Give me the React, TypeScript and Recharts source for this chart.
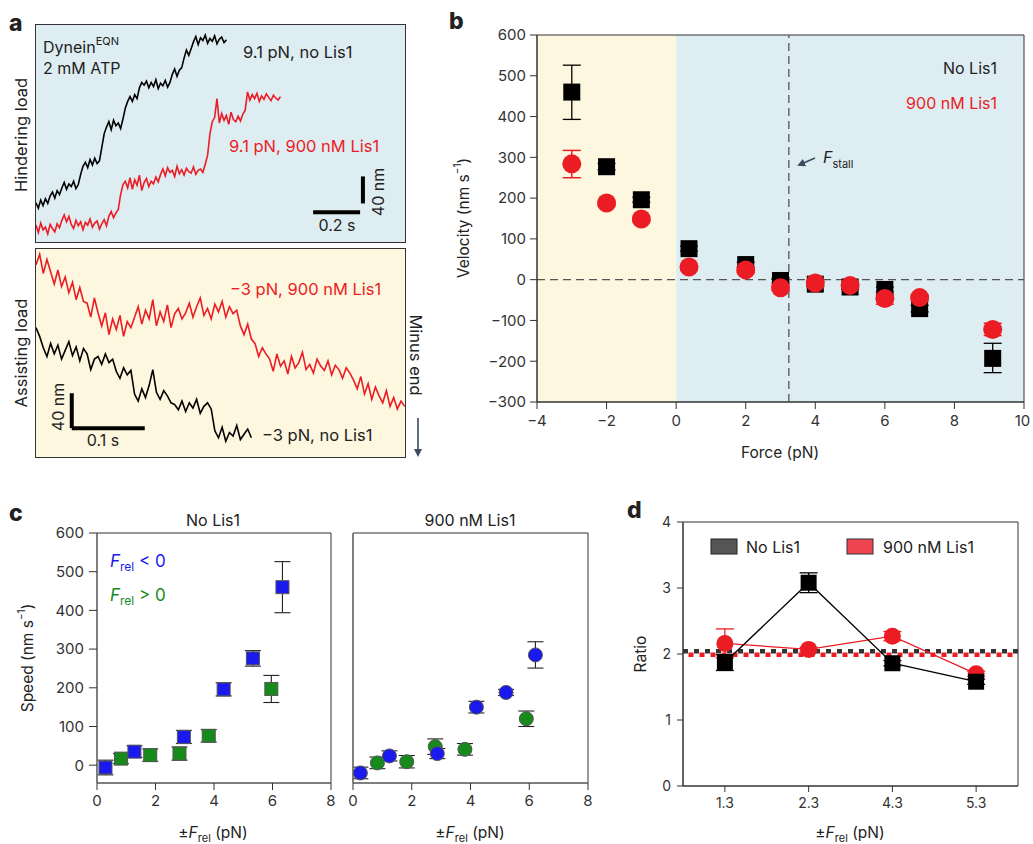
import React from 'react';
import {
  ComposedChart,
  LineChart,
  Line,
  Scatter,
  XAxis,
  YAxis,
  ReferenceArea,
  ReferenceLine,
  ErrorBar,
} from 'recharts';

const FONT = 'Inter, "Noto Sans", "DejaVu Sans", sans-serif';
const RED = '#ec1c24';
const BLUE = '#1a1aee';
const GREEN = '#178a1c';
const INK = '#222';
const AXIS = '#333';
const YELLOW_BG = '#fcf7de';
const BLUE_BG = '#deedf2';

// ---------- Panel a: optical trap traces (nm), uniform sampling ----------
const hinderDt = 0.01; // s
const hinderNoLis1 = [
  58, 50, 62, 54, 64, 57, 68, 74, 65, 76, 70, 80, 88, 78, 86, 82, 90, 79, 85, 100, 112, 118, 110, 122, 114, 124,
  116, 120, 140, 160, 170, 178, 166, 180, 172, 176, 168, 182, 198, 208, 215, 208, 218, 212, 228, 236, 232, 238,
  228, 236, 230, 240, 227, 235, 231, 239, 229, 236, 248, 256, 245, 254, 258, 272, 284, 276, 286, 296, 304, 292,
  302, 298, 306, 294, 301, 297, 305, 293, 300, 303, 295, 299,
];
const hinderLis1 = [
  25, 14, 28, 18, 22, 12, 26, 20, 15, 27, 21, 32, 40, 30, 38, 26, 20, 32, 24, 30, 18, 29, 25, 34, 22, 28, 31, 19,
  27, 33, 24, 38, 45, 36, 43, 48, 70, 85, 90, 80, 95, 78, 92, 84, 99, 76, 88, 94, 82, 90, 86, 96, 89, 100, 108, 98,
  110, 103, 106, 97, 112, 101, 107, 99, 109, 104, 102, 111, 100, 106, 108, 103, 115, 128, 160, 178, 184, 212, 176,
  190, 180, 187, 174, 192, 181, 178, 186, 179, 189, 195, 222, 210, 218, 212, 220, 208, 216, 211, 219, 214, 209, 217,
  213, 210, 215,
];
const assistDt = 0.005; // s
const assistLis1 = [
  220, 232, 210, 226, 212, 198, 214, 195, 206, 188, 200, 180, 194, 178, 176, 160, 182, 165, 150, 165, 140, 158, 146,
  162, 138, 155, 148, 160, 172, 152, 168, 158, 180, 150, 166, 155, 174, 148, 164, 170, 158, 165, 176, 160, 172, 182,
  162, 170, 158, 175, 166, 178, 160, 172, 164, 168, 150, 140, 152, 135, 130, 115, 125, 118, 112, 98, 118, 104, 110,
  95, 115, 102, 108, 120, 100, 106, 96, 112, 104, 99, 110, 94, 105, 100, 90, 102, 96, 88, 78, 92, 72, 84, 66, 80,
  70, 62, 76, 58, 68, 55, 64, 58,
];
const assistNoLis1 = [
  148, 138, 125, 115, 130, 118, 128, 112, 122, 132, 116, 126, 110, 124, 118, 100, 112, 115, 106, 118, 108, 112, 98,
  90, 102, 94, 99, 72, 64, 78, 68, 82, 100, 74, 66, 76, 70, 62, 60, 54, 64, 52, 62, 56, 66, 50, 58, 62, 55, 30, 22,
  34, 18, 28, 24, 36, 20, 26, 32, 22,
];
// scale bars
const hinderBarTime = 0.2; // s
const hinderBarNm = 40; // nm
const assistBarTime = 0.1; // s
const assistBarNm = 40; // nm

// ---------- Panel b: velocity vs force ----------
const forceNoLis1 = [-3, -2, -1, 0.37, 2, 3, 4, 5, 6, 7, 9.1];
const velNoLis1 = [460, 277, 196, 76, 37, -2, -11, -18, -24, -71, -193];
const velNoLis1ErrLo = [67, 8, 6, 6, 6, 6, 6, 6, 6, 8, 35];
const velNoLis1ErrHi = [66, 8, 6, 6, 6, 6, 6, 6, 6, 8, 37];
const forceLis1 = [-3, -2, -1, 0.37, 2, 3, 4, 5, 6, 7, 9.1];
const velLis1 = [284, 188, 149, 31, 24, -20, -8, -14, -46, -44, -122];
const velLis1ErrLo = [34, 6, 6, 6, 6, 6, 6, 6, 14, 6, 15];
const velLis1ErrHi = [33, 6, 6, 6, 6, 6, 6, 6, 10, 6, 15];
const stallForce = 3.24;

// ---------- Panel c: speed vs |F_rel| ----------
const cNoNegF = [0.29, 1.28, 2.97, 4.33, 5.33, 6.34];
const cNoNegV = [-6, 35, 73, 196, 276, 460];
const cNoNegErr = [19, 15, 17, 17, 20, 66];
const cNoPosF = [0.82, 1.82, 2.82, 3.82, 5.96];
const cNoPosV = [17, 26, 30, 76, 197];
const cNoPosErr = [13, 16, 17, 16, 35];
const cLisNegF = [0.25, 1.24, 2.87, 4.2, 5.21, 6.21];
const cLisNegV = [-20, 24, 30, 150, 188, 285];
const cLisNegErr = [15, 13, 13, 15, 8, 34];
const cLisPosF = [0.83, 1.83, 2.8, 3.81, 5.9];
const cLisPosV = [6, 9, 48, 41, 120];
const cLisPosErr = [15, 16, 20, 15, 20];

// ---------- Panel d: ratio ----------
const dLabels = ['1.3', '2.3', '4.3', '5.3'];
const dRatioNoLis1 = [1.87, 3.08, 1.86, 1.58];
const dErrNoLis1 = [0.12, 0.15, 0.04, 0.04];
const dRatioLis1 = [2.16, 2.07, 2.27, 1.7];
const dErrLis1 = [0.22, 0.03, 0.07, 0.04];
const dMeanNoLis1 = 2.04;
const dMeanLis1 = 1.99;

// ---------- tables ----------
const hinderTable = hinderLis1.map((v, i) => ({
  t: i * hinderDt,
  lis: v,
  no: i < hinderNoLis1.length ? hinderNoLis1[i] : null,
}));
const assistTable = assistLis1.map((v, i) => ({
  t: i * assistDt,
  lis: v,
  no: i < assistNoLis1.length ? assistNoLis1[i] : null,
}));
const bNo = forceNoLis1.map((x, i) => ({ x, y: velNoLis1[i], e: [velNoLis1ErrLo[i], velNoLis1ErrHi[i]] }));
const bLis = forceLis1.map((x, i) => ({ x, y: velLis1[i], e: [velLis1ErrLo[i], velLis1ErrHi[i]] }));
const mk = (xs: number[], ys: number[], es: number[]) => xs.map((x, i) => ({ x, y: ys[i], e: es[i] }));
const cNoNeg = mk(cNoNegF, cNoNegV, cNoNegErr);
const cNoPos = mk(cNoPosF, cNoPosV, cNoPosErr);
const cLisNeg = mk(cLisNegF, cLisNegV, cLisNegErr);
const cLisPos = mk(cLisPosF, cLisPosV, cLisPosErr);
const dTable = dLabels.map((l, i) => ({
  x: i + 1,
  no: dRatioNoLis1[i],
  noE: dErrNoLis1[i],
  lis: dRatioLis1[i],
  lisE: dErrLis1[i],
}));

// ---------- shapes ----------
const squareShape = (size: number, fill: string, stroke = 'none', sw = 0) => (p: any) => (
  <rect x={p.cx - size / 2} y={p.cy - size / 2} width={size} height={size} fill={fill} stroke={stroke} strokeWidth={sw} />
);
const circleShape = (r: number, fill: string, stroke = 'none', sw = 0) => (p: any) => (
  <circle cx={p.cx} cy={p.cy} r={r} fill={fill} stroke={stroke} strokeWidth={sw} />
);
const emptyShape = () => <g />;

const tickStyle = { fontSize: 15, fill: '#333', fontFamily: FONT };

const abs = (left: number, top: number): React.CSSProperties => ({ position: 'absolute', left, top });

function PanelA() {
  return (
    <>
      <div style={{ ...abs(36, 25), width: 369, height: 217, background: BLUE_BG, outline: '1px solid #333' }}>
        <LineChart width={369} height={217} data={hinderTable} margin={{ top: 0, right: 0, bottom: 0, left: 0 }}>
          <XAxis type="number" dataKey="t" domain={[0, 1.57]} hide />
          <YAxis type="number" domain={[0, 321]} hide />
          <Line dataKey="no" stroke="#000" strokeWidth={1.6} dot={false} isAnimationActive={false} />
          <Line dataKey="lis" stroke={RED} strokeWidth={1.6} dot={false} isAnimationActive={false} />
          <ReferenceLine
            segment={[{ x: 1.179, y: 44 }, { x: 1.179 + hinderBarTime, y: 44 }]}
            stroke="#000"
            strokeWidth={4}
          />
          <ReferenceLine
            segment={[{ x: 1.391, y: 57 }, { x: 1.391, y: 57 + hinderBarNm }]}
            stroke="#000"
            strokeWidth={4}
          />
        </LineChart>
      </div>
      <div style={{ ...abs(36, 249), width: 369, height: 208, background: YELLOW_BG, outline: '1px solid #333' }}>
        <LineChart width={369} height={208} data={assistTable} margin={{ top: 0, right: 0, bottom: 0, left: 0 }}>
          <XAxis type="number" dataKey="t" domain={[0, 0.5055]} hide />
          <YAxis type="number" domain={[0, 238]} hide />
          <Line dataKey="lis" stroke={RED} strokeWidth={1.6} dot={false} isAnimationActive={false} />
          <Line dataKey="no" stroke="#000" strokeWidth={1.6} dot={false} isAnimationActive={false} />
          <ReferenceLine
            segment={[{ x: 0.049, y: 33 }, { x: 0.049 + assistBarTime, y: 33 }]}
            stroke="#000"
            strokeWidth={4}
          />
          <ReferenceLine
            segment={[{ x: 0.049, y: 33 }, { x: 0.049, y: 33 + assistBarNm }]}
            stroke="#000"
            strokeWidth={4}
          />
        </LineChart>
      </div>
    </>
  );
}

function PanelB() {
  return (
    <div style={abs(440, 25)}>
      <ComposedChart width={590} height={440} margin={{ top: 10, right: 6, bottom: 33, left: 37 }}>
        <XAxis
          type="number"
          dataKey="x"
          domain={[-4, 10]}
          ticks={[-4, -2, 0, 2, 4, 6, 8, 10]}
          tickFormatter={(v: number) => (v < 0 ? `\u2212${-v}` : `${v}`)}
          height={30}
          tickSize={7}
          tickMargin={6}
          tick={tickStyle}
          axisLine={{ stroke: AXIS }}
          tickLine={{ stroke: AXIS }}
          allowDataOverflow
        />
        <YAxis
          type="number"
          dataKey="y"
          domain={[-300, 600]}
          ticks={[-300, -200, -100, 0, 100, 200, 300, 400, 500, 600]}
          tickFormatter={(v: number) => (v < 0 ? `\u2212${-v}` : `${v}`)}
          width={60}
          tickSize={7}
          tickMargin={4}
          tick={tickStyle}
          axisLine={{ stroke: AXIS }}
          tickLine={{ stroke: AXIS }}
          allowDataOverflow
        />
        <ReferenceArea x1={-4} x2={0} y1={-300} y2={600} fill={YELLOW_BG} fillOpacity={1} stroke="none" />
        <ReferenceArea x1={0} x2={10} y1={-300} y2={600} fill={BLUE_BG} fillOpacity={1} stroke="none" />
        <ReferenceArea x1={-4} x2={10} y1={-300} y2={600} fill="none" stroke={AXIS} strokeWidth={1} />
        <ReferenceLine y={0} stroke="#555" strokeWidth={1.3} strokeDasharray="8 5" />
        <ReferenceLine x={stallForce} stroke="#555" strokeWidth={1.3} strokeDasharray="8 5" />
        <Scatter data={bNo} shape={squareShape(17, '#000')} isAnimationActive={false}>
          <ErrorBar dataKey="e" direction="y" width={9} stroke="#000" strokeWidth={1.3} />
        </Scatter>
        <Scatter data={bLis} shape={circleShape(9.5, RED)} isAnimationActive={false}>
          <ErrorBar dataKey="e" direction="y" width={9} stroke={RED} strokeWidth={1.5} />
        </Scatter>
      </ComposedChart>
    </div>
  );
}

function PanelCChart({
  left,
  negData,
  posData,
  kind,
  showLabels,
}: {
  left: number;
  negData: any[];
  posData: any[];
  kind: 'square' | 'circle';
  showLabels: boolean;
}) {
  const w = showLabels ? 335 : 262;
  const marginLeft = showLabels ? 37 : 3;
  const yw = showLabels ? 60 : 20;
  const neg = kind === 'square' ? squareShape(13, BLUE, '#555', 1) : circleShape(7, BLUE, '#555', 1);
  const pos = kind === 'square' ? squareShape(13, GREEN, '#555', 1) : circleShape(7, GREEN, '#555', 1);
  return (
    <div style={abs(left, 523)}>
      <ComposedChart width={w} height={320} margin={{ top: 10, right: 4, bottom: 30, left: marginLeft }}>
        <XAxis
          type="number"
          dataKey="x"
          domain={[0, 8]}
          ticks={[0, 2, 4, 6, 8]}
          height={30}
          tickSize={7}
          tickMargin={5}
          tick={tickStyle}
          axisLine={{ stroke: '#777', strokeWidth: 1.5 }}
          tickLine={{ stroke: AXIS }}
          allowDataOverflow
        />
        <YAxis
          type="number"
          dataKey="y"
          domain={[-46, 600]}
          ticks={[0, 100, 200, 300, 400, 500, 600]}
          width={yw}
          tickSize={8}
          tickMargin={5}
          tick={showLabels ? tickStyle : false}
          axisLine={{ stroke: '#777', strokeWidth: 1.5 }}
          tickLine={{ stroke: AXIS }}
          allowDataOverflow
        />
        <ReferenceArea x1={0} x2={8} y1={-46} y2={600} fill="none" stroke={AXIS} strokeWidth={1} />
        <Scatter data={posData} shape={pos} isAnimationActive={false} />
        <Scatter data={negData} shape={neg} isAnimationActive={false} />
        <Scatter data={posData} shape={emptyShape} isAnimationActive={false}>
          <ErrorBar dataKey="e" direction="y" width={8} stroke="#222" strokeWidth={1.1} />
        </Scatter>
        <Scatter data={negData} shape={emptyShape} isAnimationActive={false}>
          <ErrorBar dataKey="e" direction="y" width={8} stroke="#222" strokeWidth={1.1} />
        </Scatter>
      </ComposedChart>
    </div>
  );
}

const DSquare = (p: any) => (
  <rect key={`dsq-${p.index}`} x={p.cx - 8} y={p.cy - 8} width={16} height={16} fill="#000" />
);
const DCircle = (p: any) => <circle key={`dci-${p.index}`} cx={p.cx} cy={p.cy} r={8.5} fill={RED} />;

function PanelD() {
  return (
    <div style={abs(610, 512)}>
      <ComposedChart width={412} height={330} data={dTable} margin={{ top: 10, right: 4, bottom: 26, left: 13 }}>
        <XAxis
          type="number"
          dataKey="x"
          domain={[0.5, 4.5]}
          ticks={[1, 2, 3, 4]}
          tickFormatter={(v: number) => dLabels[v - 1]}
          height={30}
          tickSize={6}
          tickMargin={6}
          tick={{ ...tickStyle, fontSize: 14 }}
          axisLine={{ stroke: AXIS }}
          tickLine={{ stroke: AXIS }}
          allowDataOverflow
        />
        <YAxis
          type="number"
          domain={[0, 4]}
          ticks={[0, 1, 2, 3, 4]}
          width={60}
          tickSize={6}
          tickMargin={6}
          tick={{ ...tickStyle, fontSize: 14 }}
          axisLine={{ stroke: AXIS }}
          tickLine={{ stroke: AXIS }}
          allowDataOverflow
        />
        <ReferenceArea x1={0.5} x2={4.5} y1={0} y2={4} fill="none" stroke={AXIS} strokeWidth={1} />
        <ReferenceLine y={dMeanNoLis1} stroke="#333" strokeWidth={4.5} strokeDasharray="5 6" />
        <ReferenceLine y={dMeanLis1} stroke={RED} strokeWidth={4.5} strokeDasharray="5 6" strokeDashoffset={-5.5} />
        <Line
          dataKey="lis"
          stroke={RED}
          strokeWidth={1.3}
          dot={DCircle}
          activeDot={false}
          isAnimationActive={false}
        >
          <ErrorBar dataKey="lisE" direction="y" width={9} stroke={RED} strokeWidth={1.3} />
        </Line>
        <Line
          dataKey="no"
          stroke="#000"
          strokeWidth={1.3}
          dot={DSquare}
          activeDot={false}
          isAnimationActive={false}
        >
          <ErrorBar dataKey="noE" direction="y" width={9} stroke="#000" strokeWidth={1.3} />
        </Line>
      </ComposedChart>
    </div>
  );
}

function Overlay() {
  const t = (x: number, y: number, s: React.ReactNode, o: any = {}) => (
    <text
      x={x}
      y={y}
      fontSize={o.size ?? 16}
      fill={o.fill ?? INK}
      textAnchor={o.anchor ?? 'start'}
      fontWeight={o.weight ?? 400}
      dominantBaseline={o.rot ? 'central' : undefined}
      transform={o.rot ? `rotate(${o.rot} ${x} ${y})` : undefined}
      fontFamily={FONT}
    >
      {s}
    </text>
  );
  const frel = (
    <>
      {'\u00b1'}
      <tspan fontStyle="italic">F</tspan>
      <tspan fontSize={11} dy={4}>
        rel
      </tspan>
      <tspan dy={-4}> (pN)</tspan>
    </>
  );
  const velUnit = (label: string) => (
    <>
      {label} (nm s
      <tspan fontSize={10} dy={-6}>
        {'\u22121'}
      </tspan>
      <tspan dy={6}>)</tspan>
    </>
  );
  return (
    <svg width={1033} height={844} style={{ position: 'absolute', left: 0, top: 0, pointerEvents: 'none' }}>
      <defs>
        <marker id="ah" markerWidth="8" markerHeight="8" refX="6" refY="4" orient="auto" markerUnits="userSpaceOnUse">
          <path d="M0,0 L8,4 L0,8 z" fill="#3d4b60" />
        </marker>
      </defs>
      {/* panel letters */}
      {t(9, 31, 'a', { size: 23, weight: 800 })}
      {t(449, 29, 'b', { size: 23, weight: 800 })}
      {t(9, 521, 'c', { size: 23, weight: 800 })}
      {t(627, 518, 'd', { size: 23, weight: 800 })}

      {/* panel a */}
      {t(
        43,
        53,
        <>
          Dynein
          <tspan fontSize={11} dy={-8}>
            EQN
          </tspan>
        </>,
        { size: 16 }
      )}
      {t(43, 74, '2 mM ATP', { size: 16 })}
      {t(243, 58, '9.1 pN, no Lis1', { size: 16.5 })}
      {t(229, 152, '9.1 pN, 900 nM Lis1', { size: 16.5, fill: RED })}
      {t(337, 231, '0.2 s', { size: 16, anchor: 'middle' })}
      {t(378, 192, '40 nm', { size: 16, anchor: 'middle', rot: -90 })}
      {t(21, 135, 'Hindering load', { size: 16.5, anchor: 'middle', rot: -90 })}
      {t(21, 353, 'Assisting load', { size: 16.5, anchor: 'middle', rot: -90 })}
      {t(230, 295, '\u22123 pN, 900 nM Lis1', { size: 16.5, fill: RED })}
      {t(262, 441, '\u22123 pN, no Lis1', { size: 16.5 })}
      {t(58, 407, '40 nm', { size: 16, anchor: 'middle', rot: -90 })}
      {t(103, 446, '0.1 s', { size: 16, anchor: 'middle' })}
      {t(416, 355, 'Minus end', { size: 16.5, anchor: 'middle', rot: 90 })}
      <line x1={418} y1={418} x2={418} y2={455} stroke="#3d4b60" strokeWidth={1.6} markerEnd="url(#ah)" />

      {/* panel b */}
      {t(463, 218, velUnit('Velocity'), { size: 15.5, anchor: 'middle', rot: -90 })}
      {t(780, 458, 'Force (pN)', { size: 15.5, anchor: 'middle' })}
      {t(997, 74, 'No Lis1', { size: 16, anchor: 'end' })}
      {t(997, 109, '900 nM Lis1', { size: 16, anchor: 'end', fill: RED })}
      {t(
        823,
        163,
        <>
          <tspan fontStyle="italic">F</tspan>
          <tspan fontSize={11} dy={5}>
            stall
          </tspan>
        </>,
        { size: 16 }
      )}
      <line x1={815} y1={158} x2={799} y2={165} stroke="#3d4b60" strokeWidth={1.6} markerEnd="url(#ah)" />

      {/* panel c */}
      {t(213, 526, 'No Lis1', { size: 16, anchor: 'middle' })}
      {t(470, 526, '900 nM Lis1', { size: 16, anchor: 'middle' })}
      {t(
        110,
        567,
        <>
          <tspan fontStyle="italic">F</tspan>
          <tspan fontSize={12} dy={4}>
            rel
          </tspan>
          <tspan dy={-4}> {'< 0'}</tspan>
        </>,
        { size: 17, fill: BLUE }
      )}
      {t(
        110,
        601,
        <>
          <tspan fontStyle="italic">F</tspan>
          <tspan fontSize={12} dy={4}>
            rel
          </tspan>
          <tspan dy={-4}> {'> 0'}</tspan>
        </>,
        { size: 17, fill: GREEN }
      )}
      {t(27, 658, velUnit('Speed'), { size: 15.5, anchor: 'middle', rot: -90 })}
      {t(213, 838, frel, { size: 15.5, anchor: 'middle' })}
      {t(470, 838, frel, { size: 15.5, anchor: 'middle' })}

      {/* panel d */}
      {t(640, 654, 'Ratio', { size: 15.5, anchor: 'middle', rot: -90 })}
      {t(850, 838, frel, { size: 15.5, anchor: 'middle' })}
      <rect x={711} y={539} width={26} height={15} fill="#555" stroke="#222" strokeWidth={1} />
      {t(746, 553, 'No Lis1', { size: 16 })}
      <rect x={847} y={539} width={26} height={15} fill="#ee4450" stroke="#333" strokeWidth={1} />
      {t(883, 553, '900 nM Lis1', { size: 16 })}
    </svg>
  );
}

export default function App() {
  return (
    <div
      style={{
        position: 'absolute',
        left: 0,
        top: 0,
        width: 1033,
        height: 844,
        background: '#fff',
        overflow: 'hidden',
        fontFamily: FONT,
      }}
    >
      <PanelA />
      <PanelB />
      <PanelCChart left={0} negData={cNoNeg} posData={cNoPos} kind="square" showLabels />
      <PanelCChart left={330} negData={cLisNeg} posData={cLisPos} kind="circle" showLabels={false} />
      <PanelD />
      <Overlay />
    </div>
  );
}
